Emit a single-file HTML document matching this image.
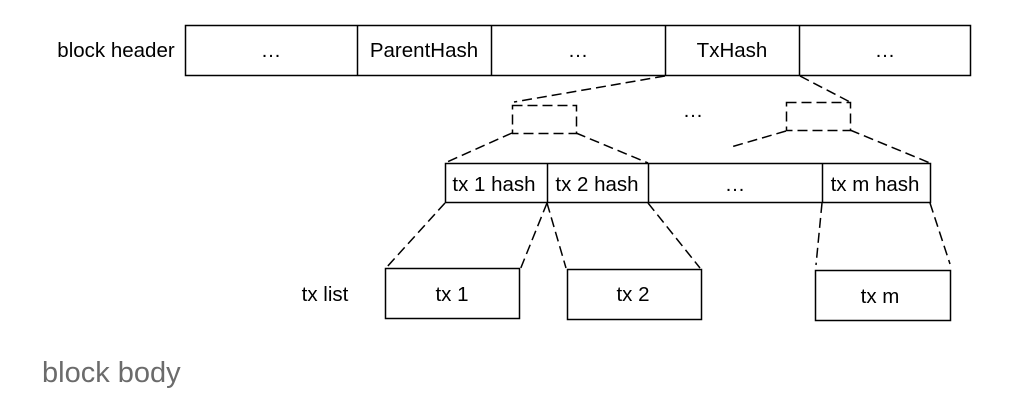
<!DOCTYPE html>
<html><head><meta charset="utf-8"><style>
html,body{margin:0;padding:0;background:#fff;}
</style></head><body>
<svg width="1026" height="400" xmlns="http://www.w3.org/2000/svg" style="display:block">
<g font-family="Liberation Sans, sans-serif" font-size="20.5" fill="#000" text-anchor="middle">
<g fill="none" stroke="#000" stroke-width="1.5">
<rect x="185.5" y="25.5" width="785" height="50"/>
<line x1="357.5" y1="25" x2="357.5" y2="76"/>
<line x1="491.5" y1="25" x2="491.5" y2="76"/>
<line x1="665.5" y1="25" x2="665.5" y2="76"/>
<line x1="799.5" y1="25" x2="799.5" y2="76"/>
<rect x="445.5" y="163.5" width="485" height="39"/>
<line x1="547.5" y1="163" x2="547.5" y2="203"/>
<line x1="648.5" y1="163" x2="648.5" y2="203"/>
<line x1="822.5" y1="163" x2="822.5" y2="203"/>
<rect x="385.5" y="268.5" width="134" height="50"/>
<rect x="567.5" y="269.5" width="134" height="50"/>
<rect x="815.5" y="270.5" width="135" height="50"/>
</g>
<g fill="none" stroke="#000" stroke-width="1.5" stroke-dasharray="10,5">
<rect x="512.5" y="105.5" width="64" height="28"/>
<rect x="786.5" y="102.5" width="64" height="28"/>
<line x1="665" y1="76" x2="514" y2="102"/>
<line x1="800" y1="76" x2="850" y2="102"/>
<line x1="512" y1="133" x2="447" y2="162"/>
<line x1="576" y1="133" x2="648" y2="163"/>
<line x1="786" y1="131" x2="731" y2="147"/>
<line x1="850" y1="130" x2="930" y2="163"/>
<line x1="445" y1="203" x2="386" y2="268"/>
<line x1="547" y1="203" x2="520" y2="270"/>
<line x1="547" y1="203" x2="566" y2="268"/>
<line x1="648" y1="203" x2="700" y2="268"/>
<line x1="822" y1="203" x2="816" y2="265"/>
<line x1="930" y1="203" x2="950" y2="264"/>
</g>
<text x="116" y="57">block header</text>
<text x="271" y="57">…</text>
<text x="424" y="57">ParentHash</text>
<text x="578" y="57">…</text>
<text x="732" y="57">TxHash</text>
<text x="885" y="57">…</text>
<text x="693" y="117">…</text>
<text x="494" y="191">tx 1 hash</text>
<text x="597" y="191">tx 2 hash</text>
<text x="735" y="191">…</text>
<text x="875" y="191">tx m hash</text>
<text x="325" y="301">tx list</text>
<text x="452" y="301">tx 1</text>
<text x="633" y="301">tx 2</text>
<text x="880" y="303">tx m</text>
<text x="42" y="382" text-anchor="start" font-size="29" fill="#6b6b6b">block body</text>
</g>
</svg>
</body></html>
